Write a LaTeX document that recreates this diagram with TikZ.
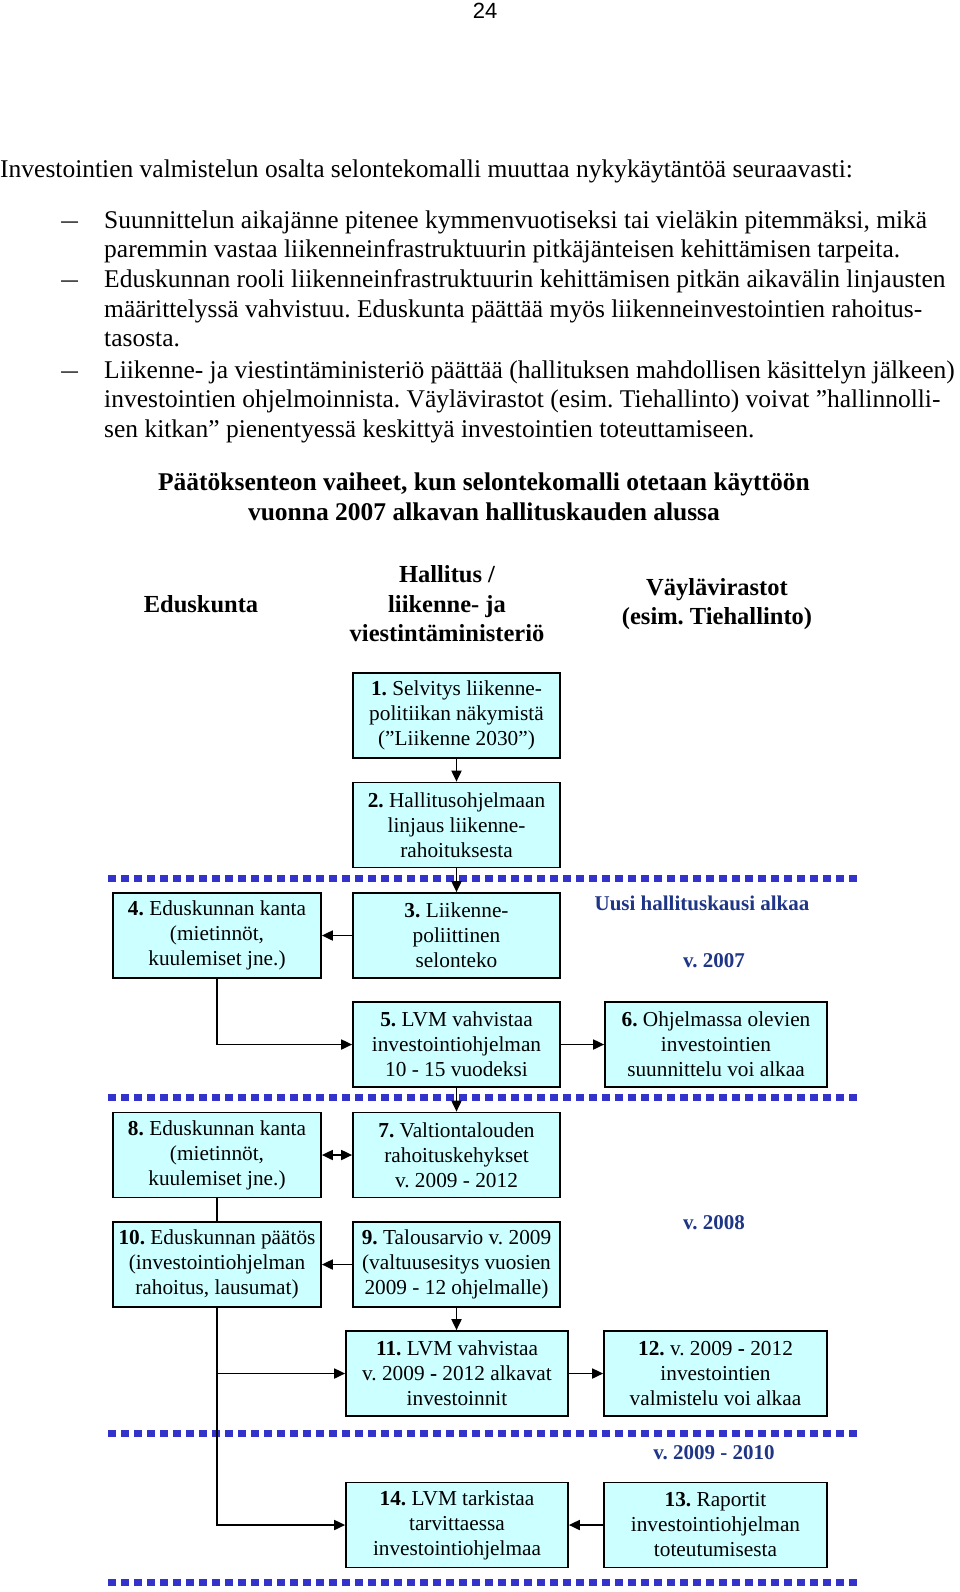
\documentclass[tikz,border=0pt]{standalone}
\usepackage{fontspec}
\setmainfont{Liberation Serif}
\newfontfamily\pagefont{Liberation Sans}
\usetikzlibrary{arrows.meta}
\frenchspacing
\definecolor{boxfill}{HTML}{CCFFFF}
\definecolor{dotblue}{HTML}{3333CC}
\definecolor{navy}{HTML}{1F3586}
\tikzset{
  stagebox/.style={draw=black, line width=1.7pt, fill=boxfill, align=center,
    inner sep=0pt, minimum height=85pt, font=\fontsize{21.3}{25}\selectfont},
  conn/.style={line width=1.8pt, -{Triangle[length=11pt,width=10pt]}},
  biconn/.style={line width=1.8pt, {Triangle[length=11pt,width=10pt]}-{Triangle[length=11pt,width=10pt]}},
  plainconn/.style={line width=1.8pt},
  sepline/.style={line width=7pt, draw=dotblue, dash pattern=on 8pt off 5pt},
  bodyline/.style={anchor=base west, inner sep=0pt, font=\fontsize{25.5}{29}\selectfont},
  header/.style={align=center, inner sep=0pt, font=\bfseries\fontsize{24.5}{29.5}\selectfont},
  yearlabel/.style={inner sep=0pt, text=navy, font=\bfseries\fontsize{21}{25}\selectfont}
}
\begin{document}
\begin{tikzpicture}[x=1pt,y=-1pt]
\path[use as bounding box, fill=white] (0,0) rectangle (960,1592);

% page number
\node[inner sep=0pt, font=\pagefont\fontsize{22}{26}\selectfont] (pagenum) at (485,10.5) {24};

% body text
\node[bodyline] (intro) at (0,177) {Investointien valmistelun osalta selontekomalli muuttaa nykykäytäntöä seuraavasti:};
\node[bodyline, xscale=1.3] (d1) at (61,228.5) {–};
\node[bodyline] (l1) at (104,228.5) {Suunnittelun aikajänne pitenee kymmenvuotiseksi tai vieläkin pitemmäksi, mikä};
\node[bodyline] (l2) at (104,257.5) {paremmin vastaa liikenneinfrastruktuurin pitkäjänteisen kehittämisen tarpeita.};
\node[bodyline, xscale=1.3] (d2) at (61,287.5) {–};
\node[bodyline] (l3) at (104,287.5) {Eduskunnan rooli liikenneinfrastruktuurin kehittämisen pitkän aikavälin linjausten};
\node[bodyline] (l4) at (104,317) {määrittelyssä vahvistuu. Eduskunta päättää myös liikenneinvestointien rahoitus-};
\node[bodyline] (l5) at (104,346.5) {tasosta.};
\node[bodyline, xscale=1.3] (d3) at (61,378) {–};
\node[bodyline] (l6) at (104,378) {Liikenne- ja viestintäministeriö päättää (hallituksen mahdollisen käsittelyn jälkeen)};
\node[bodyline] (l7) at (104,407.5) {investointien ohjelmoinnista. Väylävirastot (esim. Tiehallinto) voivat ”hallinnolli-};
\node[bodyline] (l8) at (104,437) {sen kitkan” pienentyessä keskittyä investointien toteuttamiseen.};

% title and column headers
\node[header, font=\bfseries\fontsize{25.5}{30}\selectfont] (title) at (484,497) {Päätöksenteon vaiheet, kun selontekomalli otetaan käyttöön\\vuonna 2007 alkavan hallituskauden alussa};
\node[header] (hedus) at (201,604) {Eduskunta};
\node[header] (hhall) at (447,604) {Hallitus /\\liikenne- ja\\viestintäministeriö};
\node[header] (hvayl) at (717,604) {Väylävirastot\\(esim. Tiehallinto)};

% separators
\draw[sepline] (108,878.5) -- (857,878.5);
\draw[sepline] (108,1097) -- (857,1097);
\draw[sepline] (108,1433) -- (857,1433);
\draw[sepline] (108,1582) -- (857,1582);

% period labels
\node[yearlabel] (ynew) at (702,903) {Uusi hallituskausi alkaa};
\node[yearlabel] (y2007) at (714,961) {v. 2007};
\node[yearlabel] (y2008) at (714,1223) {v. 2008};
\node[yearlabel] (y2009) at (714,1453) {v. 2009 - 2010};

% boxes
\node[stagebox, minimum width=207pt] (b1) at (456.5,715.5) {\textbf{1.} Selvitys liikenne-\\politiikan näkymistä\\(”Liikenne 2030”)};
\node[stagebox, minimum width=207pt] (b2) at (456.5,825) {\textbf{2.} Hallitusohjelmaan\\linjaus liikenne-\\rahoituksesta};
\node[stagebox, minimum width=207pt] (b3) at (456.5,935.5) {\textbf{3.} Liikenne-\\poliittinen\\selonteko};
\node[stagebox, minimum width=208pt] (b4) at (217,935.5) {\textbf{4.} Eduskunnan kanta\\(mietinnöt,\\kuulemiset jne.)};
\node[stagebox, minimum width=207pt] (b5) at (456.5,1044.5) {\textbf{5.} LVM vahvistaa\\investointiohjelman\\10 - 15 vuodeksi};
\node[stagebox, minimum width=222pt] (b6) at (716,1044.5) {\textbf{6.} Ohjelmassa olevien\\investointien\\suunnittelu voi alkaa};
\node[stagebox, minimum width=207pt] (b7) at (456.5,1155) {\textbf{7.} Valtiontalouden\\rahoituskehykset\\v. 2009 - 2012};
\node[stagebox, minimum width=208pt] (b8) at (217,1155) {\textbf{8.} Eduskunnan kanta\\(mietinnöt,\\kuulemiset jne.)};
\node[stagebox, minimum width=207pt] (b9) at (456.5,1264.5) {\textbf{9.} Talousarvio v. 2009\\(valtuusesitys vuosien\\2009 - 12 ohjelmalle)};
\node[stagebox, minimum width=208pt] (b10) at (217,1264.5) {\textbf{10.} Eduskunnan päätös\\(investointiohjelman\\rahoitus, lausumat)};
\node[stagebox, minimum width=222pt] (b11) at (457,1373.5) {\textbf{11.} LVM vahvistaa\\v. 2009 \textbf{-} 2012 alkavat\\investoinnit};
\node[stagebox, minimum width=223pt] (b12) at (715.5,1373.5) {\textbf{12.} v. 2009 \textbf{-} 2012\\investointien\\valmistelu voi alkaa};
\node[stagebox, minimum width=223pt] (b13) at (715.5,1525) {\textbf{13.} Raportit\\investointiohjelman\\toteutumisesta};
\node[stagebox, minimum width=222pt] (b14) at (457,1525) {\textbf{14.} LVM tarkistaa\\tarvittaessa\\investointiohjelmaa};

% connectors
\draw[conn] (b1.south) -- (b2.north);
\draw[conn] (b2.south) -- (b3.north);
\draw[conn] (b3.west) -- (b4.east);
\draw[conn] (b4.south) |- (b5.west);
\draw[conn] (b5.east) -- (b6.west);
\draw[conn] (b5.south) -- (b7.north);
\draw[biconn] (b8.east) -- (b7.west);
\draw[plainconn] (b8.south) -- (b10.north);
\draw[conn] (b9.west) -- (b10.east);
\draw[conn] (b9.south) -- (b9.south |- b11.north);
\draw[conn] (b10.south) |- (b11.west);
\draw[conn] (b10.south) |- (b14.west);
\draw[conn] (b11.east) -- (b12.west);
\draw[conn] (b13.west) -- (b14.east);
\end{tikzpicture}
\end{document}
